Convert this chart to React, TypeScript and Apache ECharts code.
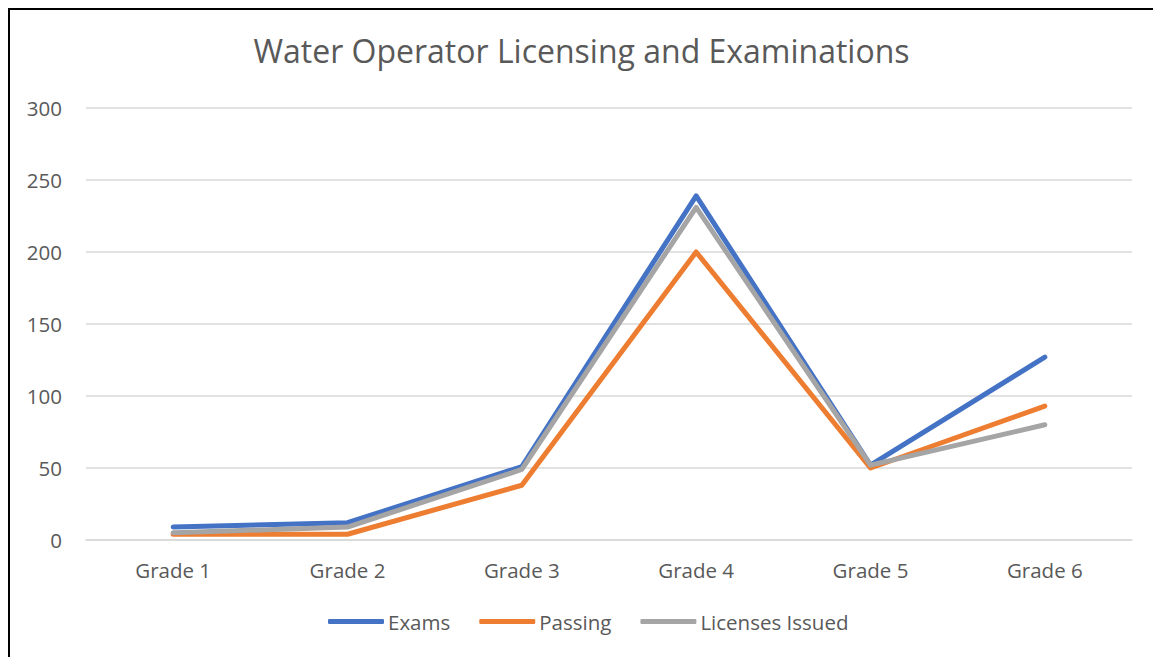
import React, { useEffect, useRef } from "react";
import * as echarts from "echarts";

const categories = ["Grade 1", "Grade 2", "Grade 3", "Grade 4", "Grade 5", "Grade 6"];
const exams = [9, 12, 51, 239, 52, 127];
const passing = [4, 4, 38, 200, 50, 93];
const licenses = [5, 9, 49, 231, 52, 80];
const yTicks = { min: 0, max: 300, interval: 50 };

const FONT = "'Open Sans', 'Noto Sans', sans-serif";

export default function App() {
  const ref = useRef<HTMLDivElement>(null);
  useEffect(() => {
    if (!ref.current) return;
    const chart = echarts.init(ref.current, undefined, { renderer: "svg" });
    const mk = (name: string, data: number[], color: string) => ({
      name,
      type: "line",
      data,
      showSymbol: false,
      symbol: "none",
      lineStyle: { width: 5, color, cap: "round", join: "round" },
      itemStyle: { color },
    });
    chart.setOption({
      animation: false,
      title: {
        text: "Water Operator Licensing and Examinations",
        left: "center",
        top: 19,
        textStyle: { fontFamily: FONT, fontSize: 32, fontWeight: "normal", color: "#595959" },
      },
      grid: { left: 76, right: 21, top: 98, bottom: 117 },
      legend: {
        top: 596,
        left: 313,
        itemWidth: 56,
        itemHeight: 5,
        itemGap: 29,
        icon: "roundRect",
        textStyle: { fontFamily: FONT, fontSize: 20.5, color: "#595959", padding: [0, 0, 0, -1] },
        data: ["Exams", "Passing", "Licenses Issued"],
      },
      xAxis: {
        type: "category",
        data: categories,
        boundaryGap: true,
        axisLine: { show: true, lineStyle: { color: "#d9d9d9", width: 1.5 } },
        axisTick: { show: false },
        axisLabel: { fontFamily: FONT, fontSize: 20.5, color: "#595959", margin: 19 },
      },
      yAxis: {
        type: "value",
        min: yTicks.min,
        max: yTicks.max,
        interval: yTicks.interval,
        axisLine: { show: false },
        axisTick: { show: false },
        splitLine: { lineStyle: { color: "#d9d9d9", width: 1.5 } },
        axisLabel: { fontFamily: FONT, fontSize: 20.5, color: "#595959", margin: 24 },
      },
      series: [
        mk("Exams", exams, "#4472C4"),
        mk("Passing", passing, "#ED7D31"),
        mk("Licenses Issued", licenses, "#A5A5A5"),
      ],
    });
    return () => chart.dispose();
  }, []);
  return (
    <div
      style={{
        position: "absolute",
        left: 8,
        top: 8,
        width: 1145,
        height: 649,
        boxSizing: "border-box",
        borderLeft: "2px solid #000",
        borderTop: "2px solid #000",
        background: "#fff",
        overflow: "hidden",
      }}
    >
      <div ref={ref} style={{ width: 1143, height: 647 }} />
    </div>
  );
}
